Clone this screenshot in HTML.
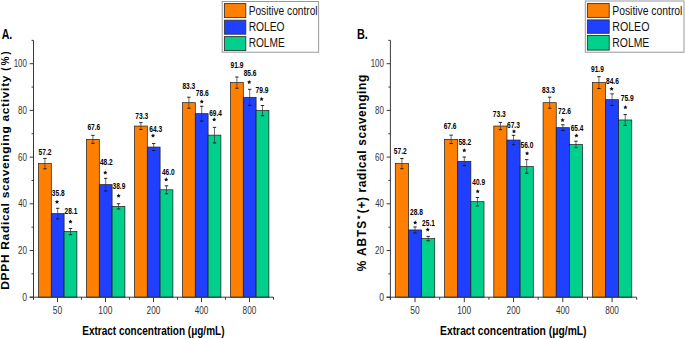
<!DOCTYPE html>
<html><head><meta charset="utf-8"><style>
html,body{margin:0;padding:0;background:#fff;}
svg{display:block;font-family:"Liberation Sans",sans-serif;}
</style></head><body>
<svg width="685" height="339" viewBox="0 0 685 339">
<rect width="685" height="339" fill="#fff"/>
<rect x="38.50" y="163.64" width="12.80" height="133.56" fill="#FF8000" stroke="#1a1a1a" stroke-width="0.7"/>
<rect x="51.30" y="213.61" width="12.80" height="83.59" fill="#2040FF" stroke="#1a1a1a" stroke-width="0.7"/>
<rect x="64.10" y="231.59" width="12.80" height="65.61" fill="#00D08C" stroke="#1a1a1a" stroke-width="0.7"/>
<rect x="86.50" y="139.35" width="12.80" height="157.85" fill="#FF8000" stroke="#1a1a1a" stroke-width="0.7"/>
<rect x="99.30" y="184.65" width="12.80" height="112.55" fill="#2040FF" stroke="#1a1a1a" stroke-width="0.7"/>
<rect x="112.10" y="206.37" width="12.80" height="90.83" fill="#00D08C" stroke="#1a1a1a" stroke-width="0.7"/>
<rect x="134.50" y="126.04" width="12.80" height="171.16" fill="#FF8000" stroke="#1a1a1a" stroke-width="0.7"/>
<rect x="147.30" y="147.06" width="12.80" height="150.14" fill="#2040FF" stroke="#1a1a1a" stroke-width="0.7"/>
<rect x="160.10" y="189.79" width="12.80" height="107.41" fill="#00D08C" stroke="#1a1a1a" stroke-width="0.7"/>
<rect x="182.50" y="102.69" width="12.80" height="194.51" fill="#FF8000" stroke="#1a1a1a" stroke-width="0.7"/>
<rect x="195.30" y="113.67" width="12.80" height="183.53" fill="#2040FF" stroke="#1a1a1a" stroke-width="0.7"/>
<rect x="208.10" y="135.15" width="12.80" height="162.05" fill="#00D08C" stroke="#1a1a1a" stroke-width="0.7"/>
<rect x="230.50" y="82.61" width="12.80" height="214.59" fill="#FF8000" stroke="#1a1a1a" stroke-width="0.7"/>
<rect x="243.30" y="97.32" width="12.80" height="199.88" fill="#2040FF" stroke="#1a1a1a" stroke-width="0.7"/>
<rect x="256.10" y="110.63" width="12.80" height="186.57" fill="#00D08C" stroke="#1a1a1a" stroke-width="0.7"/>
<line x1="44.90" y1="158.44" x2="44.90" y2="168.84" stroke="#333" stroke-width="0.7"/>
<line x1="43.20" y1="158.44" x2="46.60" y2="158.44" stroke="#111" stroke-width="0.9"/>
<line x1="43.20" y1="168.84" x2="46.60" y2="168.84" stroke="#111" stroke-width="0.9"/>
<line x1="57.70" y1="208.31" x2="57.70" y2="218.91" stroke="#333" stroke-width="0.7"/>
<line x1="56.00" y1="208.31" x2="59.40" y2="208.31" stroke="#111" stroke-width="0.9"/>
<line x1="56.00" y1="218.91" x2="59.40" y2="218.91" stroke="#111" stroke-width="0.9"/>
<line x1="70.50" y1="228.49" x2="70.50" y2="234.69" stroke="#333" stroke-width="0.7"/>
<line x1="68.80" y1="228.49" x2="72.20" y2="228.49" stroke="#111" stroke-width="0.9"/>
<line x1="68.80" y1="234.69" x2="72.20" y2="234.69" stroke="#111" stroke-width="0.9"/>
<line x1="92.90" y1="135.35" x2="92.90" y2="143.35" stroke="#333" stroke-width="0.7"/>
<line x1="91.20" y1="135.35" x2="94.60" y2="135.35" stroke="#111" stroke-width="0.9"/>
<line x1="91.20" y1="143.35" x2="94.60" y2="143.35" stroke="#111" stroke-width="0.9"/>
<line x1="105.70" y1="178.35" x2="105.70" y2="190.95" stroke="#333" stroke-width="0.7"/>
<line x1="104.00" y1="178.35" x2="107.40" y2="178.35" stroke="#111" stroke-width="0.9"/>
<line x1="104.00" y1="190.95" x2="107.40" y2="190.95" stroke="#111" stroke-width="0.9"/>
<line x1="118.50" y1="203.77" x2="118.50" y2="208.97" stroke="#333" stroke-width="0.7"/>
<line x1="116.80" y1="203.77" x2="120.20" y2="203.77" stroke="#111" stroke-width="0.9"/>
<line x1="116.80" y1="208.97" x2="120.20" y2="208.97" stroke="#111" stroke-width="0.9"/>
<line x1="140.90" y1="122.64" x2="140.90" y2="129.44" stroke="#333" stroke-width="0.7"/>
<line x1="139.20" y1="122.64" x2="142.60" y2="122.64" stroke="#111" stroke-width="0.9"/>
<line x1="139.20" y1="129.44" x2="142.60" y2="129.44" stroke="#111" stroke-width="0.9"/>
<line x1="153.70" y1="143.56" x2="153.70" y2="150.56" stroke="#333" stroke-width="0.7"/>
<line x1="152.00" y1="143.56" x2="155.40" y2="143.56" stroke="#111" stroke-width="0.9"/>
<line x1="152.00" y1="150.56" x2="155.40" y2="150.56" stroke="#111" stroke-width="0.9"/>
<line x1="166.50" y1="185.79" x2="166.50" y2="193.79" stroke="#333" stroke-width="0.7"/>
<line x1="164.80" y1="185.79" x2="168.20" y2="185.79" stroke="#111" stroke-width="0.9"/>
<line x1="164.80" y1="193.79" x2="168.20" y2="193.79" stroke="#111" stroke-width="0.9"/>
<line x1="188.90" y1="97.19" x2="188.90" y2="108.19" stroke="#333" stroke-width="0.7"/>
<line x1="187.20" y1="97.19" x2="190.60" y2="97.19" stroke="#111" stroke-width="0.9"/>
<line x1="187.20" y1="108.19" x2="190.60" y2="108.19" stroke="#111" stroke-width="0.9"/>
<line x1="201.70" y1="106.27" x2="201.70" y2="121.07" stroke="#333" stroke-width="0.7"/>
<line x1="200.00" y1="106.27" x2="203.40" y2="106.27" stroke="#111" stroke-width="0.9"/>
<line x1="200.00" y1="121.07" x2="203.40" y2="121.07" stroke="#111" stroke-width="0.9"/>
<line x1="214.50" y1="127.35" x2="214.50" y2="142.95" stroke="#333" stroke-width="0.7"/>
<line x1="212.80" y1="127.35" x2="216.20" y2="127.35" stroke="#111" stroke-width="0.9"/>
<line x1="212.80" y1="142.95" x2="216.20" y2="142.95" stroke="#111" stroke-width="0.9"/>
<line x1="236.90" y1="77.01" x2="236.90" y2="88.21" stroke="#333" stroke-width="0.7"/>
<line x1="235.20" y1="77.01" x2="238.60" y2="77.01" stroke="#111" stroke-width="0.9"/>
<line x1="235.20" y1="88.21" x2="238.60" y2="88.21" stroke="#111" stroke-width="0.9"/>
<line x1="249.70" y1="89.32" x2="249.70" y2="105.32" stroke="#333" stroke-width="0.7"/>
<line x1="248.00" y1="89.32" x2="251.40" y2="89.32" stroke="#111" stroke-width="0.9"/>
<line x1="248.00" y1="105.32" x2="251.40" y2="105.32" stroke="#111" stroke-width="0.9"/>
<line x1="262.50" y1="105.53" x2="262.50" y2="115.73" stroke="#333" stroke-width="0.7"/>
<line x1="260.80" y1="105.53" x2="264.20" y2="105.53" stroke="#111" stroke-width="0.9"/>
<line x1="260.80" y1="115.73" x2="264.20" y2="115.73" stroke="#111" stroke-width="0.9"/>
<line x1="33.50" y1="40.30" x2="33.50" y2="299.70" stroke="#383838" stroke-width="1"/>
<line x1="29.70" y1="297.20" x2="273.50" y2="297.20" stroke="#383838" stroke-width="1"/>
<line x1="29.70" y1="297.20" x2="33.50" y2="297.20" stroke="#383838" stroke-width="1"/>
<line x1="31.50" y1="273.85" x2="33.50" y2="273.85" stroke="#383838" stroke-width="1"/>
<line x1="29.70" y1="250.50" x2="33.50" y2="250.50" stroke="#383838" stroke-width="1"/>
<line x1="31.50" y1="227.15" x2="33.50" y2="227.15" stroke="#383838" stroke-width="1"/>
<line x1="29.70" y1="203.80" x2="33.50" y2="203.80" stroke="#383838" stroke-width="1"/>
<line x1="31.50" y1="180.45" x2="33.50" y2="180.45" stroke="#383838" stroke-width="1"/>
<line x1="29.70" y1="157.10" x2="33.50" y2="157.10" stroke="#383838" stroke-width="1"/>
<line x1="31.50" y1="133.75" x2="33.50" y2="133.75" stroke="#383838" stroke-width="1"/>
<line x1="29.70" y1="110.40" x2="33.50" y2="110.40" stroke="#383838" stroke-width="1"/>
<line x1="31.50" y1="87.05" x2="33.50" y2="87.05" stroke="#383838" stroke-width="1"/>
<line x1="29.70" y1="63.70" x2="33.50" y2="63.70" stroke="#383838" stroke-width="1"/>
<line x1="31.50" y1="40.35" x2="33.50" y2="40.35" stroke="#383838" stroke-width="1"/>
<line x1="33.50" y1="297.20" x2="33.50" y2="299.70" stroke="#383838" stroke-width="1"/>
<line x1="57.50" y1="297.20" x2="57.50" y2="302.20" stroke="#383838" stroke-width="1"/>
<line x1="81.50" y1="297.20" x2="81.50" y2="299.70" stroke="#383838" stroke-width="1"/>
<line x1="105.50" y1="297.20" x2="105.50" y2="302.20" stroke="#383838" stroke-width="1"/>
<line x1="129.50" y1="297.20" x2="129.50" y2="299.70" stroke="#383838" stroke-width="1"/>
<line x1="153.50" y1="297.20" x2="153.50" y2="302.20" stroke="#383838" stroke-width="1"/>
<line x1="177.50" y1="297.20" x2="177.50" y2="299.70" stroke="#383838" stroke-width="1"/>
<line x1="201.50" y1="297.20" x2="201.50" y2="302.20" stroke="#383838" stroke-width="1"/>
<line x1="225.50" y1="297.20" x2="225.50" y2="299.70" stroke="#383838" stroke-width="1"/>
<line x1="249.50" y1="297.20" x2="249.50" y2="302.20" stroke="#383838" stroke-width="1"/>
<line x1="273.50" y1="297.20" x2="273.50" y2="299.70" stroke="#383838" stroke-width="1"/>
<text transform="translate(22.17,300.70) scale(0.7148,0.9312)" font-size="12" font-weight="normal" fill="#333">0</text>
<text transform="translate(18.00,254.00) scale(0.6680,0.9312)" font-size="12" font-weight="normal" fill="#333">20</text>
<text transform="translate(18.22,207.30) scale(0.6508,0.9312)" font-size="12" font-weight="normal" fill="#333">40</text>
<text transform="translate(17.99,160.60) scale(0.6686,0.9312)" font-size="12" font-weight="normal" fill="#333">60</text>
<text transform="translate(18.06,113.90) scale(0.6634,0.9312)" font-size="12" font-weight="normal" fill="#333">80</text>
<text transform="translate(13.70,67.20) scale(0.6600,0.9312)" font-size="12" font-weight="normal" fill="#333">100</text>
<text transform="translate(52.81,313.80) scale(0.7018,0.9193)" font-size="12" font-weight="normal" fill="#333">50</text>
<text transform="translate(98.34,313.80) scale(0.7003,0.9193)" font-size="12" font-weight="normal" fill="#333">100</text>
<text transform="translate(146.56,313.80) scale(0.6887,0.9193)" font-size="12" font-weight="normal" fill="#333">200</text>
<text transform="translate(194.79,313.80) scale(0.6771,0.9193)" font-size="12" font-weight="normal" fill="#333">400</text>
<text transform="translate(242.62,313.80) scale(0.6857,0.9193)" font-size="12" font-weight="normal" fill="#333">800</text>
<text transform="translate(38.54,155.01) scale(0.7348,0.9730)" font-size="9" font-weight="bold" fill="#000">57.2</text>
<text transform="translate(51.85,196.05) scale(0.7282,0.9716)" font-size="9" font-weight="bold" fill="#000">35.8</text>
<text transform="translate(64.52,214.11) scale(0.7317,0.9730)" font-size="9" font-weight="bold" fill="#000">28.1</text>
<text transform="translate(87.41,130.21) scale(0.7356,0.9730)" font-size="9" font-weight="bold" fill="#000">67.6</text>
<text transform="translate(99.90,165.41) scale(0.7286,0.9730)" font-size="9" font-weight="bold" fill="#000">48.2</text>
<text transform="translate(112.55,189.45) scale(0.7305,0.9716)" font-size="9" font-weight="bold" fill="#000">38.9</text>
<text transform="translate(135.31,118.50) scale(0.7380,0.9716)" font-size="9" font-weight="bold" fill="#000">73.3</text>
<text transform="translate(149.26,132.25) scale(0.7356,0.9716)" font-size="9" font-weight="bold" fill="#000">64.3</text>
<text transform="translate(161.95,175.31) scale(0.7290,0.9730)" font-size="9" font-weight="bold" fill="#000">46.0</text>
<text transform="translate(182.44,89.15) scale(0.7336,0.9716)" font-size="9" font-weight="bold" fill="#000">83.3</text>
<text transform="translate(195.76,96.26) scale(0.7380,0.9730)" font-size="9" font-weight="bold" fill="#000">78.6</text>
<text transform="translate(209.16,115.56) scale(0.7236,0.9730)" font-size="9" font-weight="bold" fill="#000">69.4</text>
<text transform="translate(230.57,67.76) scale(0.7352,0.9730)" font-size="9" font-weight="bold" fill="#000">91.9</text>
<text transform="translate(243.69,75.51) scale(0.7336,0.9730)" font-size="9" font-weight="bold" fill="#000">85.6</text>
<text transform="translate(255.51,92.81) scale(0.7384,0.9730)" font-size="9" font-weight="bold" fill="#000">79.9</text>
<polygon points="57.00,199.76 57.65,201.07 59.09,201.28 58.05,202.30 58.29,203.74 57.00,203.06 55.71,203.74 55.95,202.30 54.91,201.28 56.35,201.07" fill="#111"/>
<polygon points="70.50,219.56 71.15,220.87 72.59,221.08 71.55,222.10 71.79,223.54 70.50,222.86 69.21,223.54 69.45,222.10 68.41,221.08 69.85,220.87" fill="#111"/>
<polygon points="105.30,170.41 105.95,171.72 107.39,171.93 106.35,172.95 106.59,174.39 105.30,173.71 104.01,174.39 104.25,172.95 103.21,171.93 104.65,171.72" fill="#111"/>
<polygon points="118.60,193.61 119.25,194.92 120.69,195.13 119.65,196.15 119.89,197.59 118.60,196.91 117.31,197.59 117.55,196.15 116.51,195.13 117.95,194.92" fill="#111"/>
<polygon points="153.00,133.46 153.65,134.77 155.09,134.98 154.05,136.00 154.29,137.44 153.00,136.76 151.71,137.44 151.95,136.00 150.91,134.98 152.35,134.77" fill="#111"/>
<polygon points="166.20,177.36 166.85,178.67 168.29,178.88 167.25,179.90 167.49,181.34 166.20,180.66 164.91,181.34 165.15,179.90 164.11,178.88 165.55,178.67" fill="#111"/>
<polygon points="201.80,99.41 202.45,100.72 203.89,100.93 202.85,101.95 203.09,103.39 201.80,102.71 200.51,103.39 200.75,101.95 199.71,100.93 201.15,100.72" fill="#111"/>
<polygon points="214.20,117.36 214.85,118.67 216.29,118.88 215.25,119.90 215.49,121.34 214.20,120.66 212.91,121.34 213.15,119.90 212.11,118.88 213.55,118.67" fill="#111"/>
<polygon points="249.20,80.06 249.85,81.37 251.29,81.58 250.25,82.60 250.49,84.04 249.20,83.36 247.91,84.04 248.15,82.60 247.11,81.58 248.55,81.37" fill="#111"/>
<polygon points="261.60,97.06 262.25,98.37 263.69,98.58 262.65,99.60 262.89,101.04 261.60,100.36 260.31,101.04 260.55,99.60 259.51,98.58 260.95,98.37" fill="#111"/>
<rect x="395.30" y="163.64" width="13.15" height="133.56" fill="#FF8000" stroke="#1a1a1a" stroke-width="0.7"/>
<rect x="408.45" y="229.95" width="13.15" height="67.25" fill="#2040FF" stroke="#1a1a1a" stroke-width="0.7"/>
<rect x="421.60" y="238.59" width="13.15" height="58.61" fill="#00D08C" stroke="#1a1a1a" stroke-width="0.7"/>
<rect x="444.56" y="139.35" width="13.15" height="157.85" fill="#FF8000" stroke="#1a1a1a" stroke-width="0.7"/>
<rect x="457.71" y="161.30" width="13.15" height="135.90" fill="#2040FF" stroke="#1a1a1a" stroke-width="0.7"/>
<rect x="470.86" y="201.70" width="13.15" height="95.50" fill="#00D08C" stroke="#1a1a1a" stroke-width="0.7"/>
<rect x="493.82" y="126.04" width="13.15" height="171.16" fill="#FF8000" stroke="#1a1a1a" stroke-width="0.7"/>
<rect x="506.97" y="140.05" width="13.15" height="157.15" fill="#2040FF" stroke="#1a1a1a" stroke-width="0.7"/>
<rect x="520.12" y="166.44" width="13.15" height="130.76" fill="#00D08C" stroke="#1a1a1a" stroke-width="0.7"/>
<rect x="543.08" y="102.69" width="13.15" height="194.51" fill="#FF8000" stroke="#1a1a1a" stroke-width="0.7"/>
<rect x="556.23" y="127.68" width="13.15" height="169.52" fill="#2040FF" stroke="#1a1a1a" stroke-width="0.7"/>
<rect x="569.38" y="144.49" width="13.15" height="152.71" fill="#00D08C" stroke="#1a1a1a" stroke-width="0.7"/>
<rect x="592.34" y="82.61" width="13.15" height="214.59" fill="#FF8000" stroke="#1a1a1a" stroke-width="0.7"/>
<rect x="605.49" y="99.66" width="13.15" height="197.54" fill="#2040FF" stroke="#1a1a1a" stroke-width="0.7"/>
<rect x="618.64" y="119.97" width="13.15" height="177.23" fill="#00D08C" stroke="#1a1a1a" stroke-width="0.7"/>
<line x1="401.88" y1="158.54" x2="401.88" y2="168.74" stroke="#333" stroke-width="0.7"/>
<line x1="400.18" y1="158.54" x2="403.58" y2="158.54" stroke="#111" stroke-width="0.9"/>
<line x1="400.18" y1="168.74" x2="403.58" y2="168.74" stroke="#111" stroke-width="0.9"/>
<line x1="415.03" y1="226.95" x2="415.03" y2="232.95" stroke="#333" stroke-width="0.7"/>
<line x1="413.33" y1="226.95" x2="416.73" y2="226.95" stroke="#111" stroke-width="0.9"/>
<line x1="413.33" y1="232.95" x2="416.73" y2="232.95" stroke="#111" stroke-width="0.9"/>
<line x1="428.18" y1="236.39" x2="428.18" y2="240.79" stroke="#333" stroke-width="0.7"/>
<line x1="426.48" y1="236.39" x2="429.88" y2="236.39" stroke="#111" stroke-width="0.9"/>
<line x1="426.48" y1="240.79" x2="429.88" y2="240.79" stroke="#111" stroke-width="0.9"/>
<line x1="451.14" y1="135.15" x2="451.14" y2="143.55" stroke="#333" stroke-width="0.7"/>
<line x1="449.44" y1="135.15" x2="452.84" y2="135.15" stroke="#111" stroke-width="0.9"/>
<line x1="449.44" y1="143.55" x2="452.84" y2="143.55" stroke="#111" stroke-width="0.9"/>
<line x1="464.29" y1="157.00" x2="464.29" y2="165.60" stroke="#333" stroke-width="0.7"/>
<line x1="462.59" y1="157.00" x2="465.99" y2="157.00" stroke="#111" stroke-width="0.9"/>
<line x1="462.59" y1="165.60" x2="465.99" y2="165.60" stroke="#111" stroke-width="0.9"/>
<line x1="477.44" y1="197.50" x2="477.44" y2="205.90" stroke="#333" stroke-width="0.7"/>
<line x1="475.74" y1="197.50" x2="479.14" y2="197.50" stroke="#111" stroke-width="0.9"/>
<line x1="475.74" y1="205.90" x2="479.14" y2="205.90" stroke="#111" stroke-width="0.9"/>
<line x1="500.40" y1="122.44" x2="500.40" y2="129.64" stroke="#333" stroke-width="0.7"/>
<line x1="498.70" y1="122.44" x2="502.10" y2="122.44" stroke="#111" stroke-width="0.9"/>
<line x1="498.70" y1="129.64" x2="502.10" y2="129.64" stroke="#111" stroke-width="0.9"/>
<line x1="513.55" y1="135.35" x2="513.55" y2="144.75" stroke="#333" stroke-width="0.7"/>
<line x1="511.85" y1="135.35" x2="515.25" y2="135.35" stroke="#111" stroke-width="0.9"/>
<line x1="511.85" y1="144.75" x2="515.25" y2="144.75" stroke="#111" stroke-width="0.9"/>
<line x1="526.70" y1="159.64" x2="526.70" y2="173.24" stroke="#333" stroke-width="0.7"/>
<line x1="525.00" y1="159.64" x2="528.40" y2="159.64" stroke="#111" stroke-width="0.9"/>
<line x1="525.00" y1="173.24" x2="528.40" y2="173.24" stroke="#111" stroke-width="0.9"/>
<line x1="549.66" y1="97.19" x2="549.66" y2="108.19" stroke="#333" stroke-width="0.7"/>
<line x1="547.96" y1="97.19" x2="551.36" y2="97.19" stroke="#111" stroke-width="0.9"/>
<line x1="547.96" y1="108.19" x2="551.36" y2="108.19" stroke="#111" stroke-width="0.9"/>
<line x1="562.81" y1="124.78" x2="562.81" y2="130.58" stroke="#333" stroke-width="0.7"/>
<line x1="561.11" y1="124.78" x2="564.51" y2="124.78" stroke="#111" stroke-width="0.9"/>
<line x1="561.11" y1="130.58" x2="564.51" y2="130.58" stroke="#111" stroke-width="0.9"/>
<line x1="575.96" y1="141.19" x2="575.96" y2="147.79" stroke="#333" stroke-width="0.7"/>
<line x1="574.26" y1="141.19" x2="577.66" y2="141.19" stroke="#111" stroke-width="0.9"/>
<line x1="574.26" y1="147.79" x2="577.66" y2="147.79" stroke="#111" stroke-width="0.9"/>
<line x1="598.92" y1="76.71" x2="598.92" y2="88.51" stroke="#333" stroke-width="0.7"/>
<line x1="597.22" y1="76.71" x2="600.62" y2="76.71" stroke="#111" stroke-width="0.9"/>
<line x1="597.22" y1="88.51" x2="600.62" y2="88.51" stroke="#111" stroke-width="0.9"/>
<line x1="612.07" y1="93.86" x2="612.07" y2="105.46" stroke="#333" stroke-width="0.7"/>
<line x1="610.37" y1="93.86" x2="613.77" y2="93.86" stroke="#111" stroke-width="0.9"/>
<line x1="610.37" y1="105.46" x2="613.77" y2="105.46" stroke="#111" stroke-width="0.9"/>
<line x1="625.22" y1="114.57" x2="625.22" y2="125.37" stroke="#333" stroke-width="0.7"/>
<line x1="623.52" y1="114.57" x2="626.92" y2="114.57" stroke="#111" stroke-width="0.9"/>
<line x1="623.52" y1="125.37" x2="626.92" y2="125.37" stroke="#111" stroke-width="0.9"/>
<line x1="390.40" y1="40.30" x2="390.40" y2="299.70" stroke="#383838" stroke-width="1"/>
<line x1="386.60" y1="297.20" x2="636.70" y2="297.20" stroke="#383838" stroke-width="1"/>
<line x1="386.60" y1="297.20" x2="390.40" y2="297.20" stroke="#383838" stroke-width="1"/>
<line x1="388.40" y1="273.85" x2="390.40" y2="273.85" stroke="#383838" stroke-width="1"/>
<line x1="386.60" y1="250.50" x2="390.40" y2="250.50" stroke="#383838" stroke-width="1"/>
<line x1="388.40" y1="227.15" x2="390.40" y2="227.15" stroke="#383838" stroke-width="1"/>
<line x1="386.60" y1="203.80" x2="390.40" y2="203.80" stroke="#383838" stroke-width="1"/>
<line x1="388.40" y1="180.45" x2="390.40" y2="180.45" stroke="#383838" stroke-width="1"/>
<line x1="386.60" y1="157.10" x2="390.40" y2="157.10" stroke="#383838" stroke-width="1"/>
<line x1="388.40" y1="133.75" x2="390.40" y2="133.75" stroke="#383838" stroke-width="1"/>
<line x1="386.60" y1="110.40" x2="390.40" y2="110.40" stroke="#383838" stroke-width="1"/>
<line x1="388.40" y1="87.05" x2="390.40" y2="87.05" stroke="#383838" stroke-width="1"/>
<line x1="386.60" y1="63.70" x2="390.40" y2="63.70" stroke="#383838" stroke-width="1"/>
<line x1="388.40" y1="40.35" x2="390.40" y2="40.35" stroke="#383838" stroke-width="1"/>
<line x1="390.40" y1="297.20" x2="390.40" y2="299.70" stroke="#383838" stroke-width="1"/>
<line x1="415.03" y1="297.20" x2="415.03" y2="302.20" stroke="#383838" stroke-width="1"/>
<line x1="439.66" y1="297.20" x2="439.66" y2="299.70" stroke="#383838" stroke-width="1"/>
<line x1="464.29" y1="297.20" x2="464.29" y2="302.20" stroke="#383838" stroke-width="1"/>
<line x1="488.92" y1="297.20" x2="488.92" y2="299.70" stroke="#383838" stroke-width="1"/>
<line x1="513.55" y1="297.20" x2="513.55" y2="302.20" stroke="#383838" stroke-width="1"/>
<line x1="538.18" y1="297.20" x2="538.18" y2="299.70" stroke="#383838" stroke-width="1"/>
<line x1="562.81" y1="297.20" x2="562.81" y2="302.20" stroke="#383838" stroke-width="1"/>
<line x1="587.44" y1="297.20" x2="587.44" y2="299.70" stroke="#383838" stroke-width="1"/>
<line x1="612.07" y1="297.20" x2="612.07" y2="302.20" stroke="#383838" stroke-width="1"/>
<line x1="636.70" y1="297.20" x2="636.70" y2="299.70" stroke="#383838" stroke-width="1"/>
<text transform="translate(379.17,300.70) scale(0.7148,0.9312)" font-size="12" font-weight="normal" fill="#333">0</text>
<text transform="translate(375.00,254.00) scale(0.6680,0.9312)" font-size="12" font-weight="normal" fill="#333">20</text>
<text transform="translate(375.22,207.30) scale(0.6508,0.9312)" font-size="12" font-weight="normal" fill="#333">40</text>
<text transform="translate(374.99,160.60) scale(0.6686,0.9312)" font-size="12" font-weight="normal" fill="#333">60</text>
<text transform="translate(375.06,113.90) scale(0.6634,0.9312)" font-size="12" font-weight="normal" fill="#333">80</text>
<text transform="translate(370.70,67.20) scale(0.6600,0.9312)" font-size="12" font-weight="normal" fill="#333">100</text>
<text transform="translate(410.34,313.80) scale(0.7018,0.9193)" font-size="12" font-weight="normal" fill="#333">50</text>
<text transform="translate(457.13,313.80) scale(0.7003,0.9193)" font-size="12" font-weight="normal" fill="#333">100</text>
<text transform="translate(506.61,313.80) scale(0.6887,0.9193)" font-size="12" font-weight="normal" fill="#333">200</text>
<text transform="translate(556.10,313.80) scale(0.6771,0.9193)" font-size="12" font-weight="normal" fill="#333">400</text>
<text transform="translate(605.19,313.80) scale(0.6857,0.9193)" font-size="12" font-weight="normal" fill="#333">800</text>
<text transform="translate(393.79,154.16) scale(0.7348,0.9730)" font-size="9" font-weight="bold" fill="#000">57.2</text>
<text transform="translate(410.02,215.21) scale(0.7329,0.9730)" font-size="9" font-weight="bold" fill="#000">28.8</text>
<text transform="translate(422.12,225.66) scale(0.7317,0.9730)" font-size="9" font-weight="bold" fill="#000">25.1</text>
<text transform="translate(443.66,128.91) scale(0.7356,0.9730)" font-size="9" font-weight="bold" fill="#000">67.6</text>
<text transform="translate(458.39,145.21) scale(0.7348,0.9730)" font-size="9" font-weight="bold" fill="#000">58.2</text>
<text transform="translate(472.30,184.56) scale(0.7274,0.9730)" font-size="9" font-weight="bold" fill="#000">40.9</text>
<text transform="translate(492.76,116.85) scale(0.7380,0.9716)" font-size="9" font-weight="bold" fill="#000">73.3</text>
<text transform="translate(506.96,127.50) scale(0.7356,0.9716)" font-size="9" font-weight="bold" fill="#000">67.3</text>
<text transform="translate(520.49,147.76) scale(0.7352,0.9730)" font-size="9" font-weight="bold" fill="#000">56.0</text>
<text transform="translate(542.04,93.15) scale(0.7336,0.9716)" font-size="9" font-weight="bold" fill="#000">83.3</text>
<text transform="translate(558.06,113.96) scale(0.7380,0.9730)" font-size="9" font-weight="bold" fill="#000">72.6</text>
<text transform="translate(570.66,130.86) scale(0.7236,0.9730)" font-size="9" font-weight="bold" fill="#000">65.4</text>
<text transform="translate(591.02,71.71) scale(0.7352,0.9730)" font-size="9" font-weight="bold" fill="#000">91.9</text>
<text transform="translate(605.99,83.66) scale(0.7336,0.9730)" font-size="9" font-weight="bold" fill="#000">84.6</text>
<text transform="translate(620.71,100.76) scale(0.7384,0.9730)" font-size="9" font-weight="bold" fill="#000">75.9</text>
<polygon points="415.20,220.56 415.85,221.87 417.29,222.08 416.25,223.10 416.49,224.54 415.20,223.86 413.91,224.54 414.15,223.10 413.11,222.08 414.55,221.87" fill="#111"/>
<polygon points="427.70,227.51 428.35,228.82 429.79,229.03 428.75,230.05 428.99,231.49 427.70,230.81 426.41,231.49 426.65,230.05 425.61,229.03 427.05,228.82" fill="#111"/>
<polygon points="464.30,148.26 464.95,149.57 466.39,149.78 465.35,150.80 465.59,152.24 464.30,151.56 463.01,152.24 463.25,150.80 462.21,149.78 463.65,149.57" fill="#111"/>
<polygon points="477.70,189.21 478.35,190.52 479.79,190.73 478.75,191.75 478.99,193.19 477.70,192.51 476.41,193.19 476.65,191.75 475.61,190.73 477.05,190.52" fill="#111"/>
<polygon points="514.00,129.16 514.65,130.47 516.09,130.68 515.05,131.70 515.29,133.14 514.00,132.46 512.71,133.14 512.95,131.70 511.91,130.68 513.35,130.47" fill="#111"/>
<polygon points="527.10,151.26 527.75,152.57 529.19,152.78 528.15,153.80 528.39,155.24 527.10,154.56 525.81,155.24 526.05,153.80 525.01,152.78 526.45,152.57" fill="#111"/>
<polygon points="562.60,118.01 563.25,119.32 564.69,119.53 563.65,120.55 563.89,121.99 562.60,121.31 561.31,121.99 561.55,120.55 560.51,119.53 561.95,119.32" fill="#111"/>
<polygon points="576.40,133.51 577.05,134.82 578.49,135.03 577.45,136.05 577.69,137.49 576.40,136.81 575.11,137.49 575.35,136.05 574.31,135.03 575.75,134.82" fill="#111"/>
<polygon points="611.60,86.76 612.25,88.07 613.69,88.28 612.65,89.30 612.89,90.74 611.60,90.06 610.31,90.74 610.55,89.30 609.51,88.28 610.95,88.07" fill="#111"/>
<polygon points="625.40,105.11 626.05,106.42 627.49,106.63 626.45,107.65 626.69,109.09 625.40,108.41 624.11,109.09 624.35,107.65 623.31,106.63 624.75,106.42" fill="#111"/>
<text transform="translate(9.30,289.80) rotate(-90) scale(0.9221,0.8833)" font-size="13" letter-spacing="0.748" font-weight="bold" fill="#000">DPPH Radical scavenging activity</text>
<text transform="translate(9.30,70.80) rotate(-90) scale(0.7740,0.8833)" font-size="13" letter-spacing="2.364" font-weight="bold" fill="#000">(%)</text>
<text transform="translate(365.60,271.19) rotate(-90) scale(0.9065,0.9504)" font-size="13" letter-spacing="1.094" font-weight="bold" fill="#000">% ABTS</text>
<polygon points="358.80,215.30 359.39,216.59 360.80,216.75 359.75,217.71 360.03,219.10 358.80,218.40 357.57,219.10 357.85,217.71 356.80,216.75 358.21,216.59" fill="#111"/>
<text transform="translate(365.60,213.19) rotate(-90) scale(0.9113,0.9504)" font-size="13" letter-spacing="0.716" font-weight="bold" fill="#000">(+) radical scavenging</text>
<text transform="translate(82.23,334.70) scale(0.8340,1.0296)" font-size="12" font-weight="bold" fill="#000">Extract concentration (μg/mL)</text>
<text transform="translate(440.11,334.70) scale(0.8589,1.0296)" font-size="12" font-weight="bold" fill="#000">Extract concentration (μg/mL)</text>
<text transform="translate(1.64,38.60) scale(0.8151,1.0957)" font-size="13" font-weight="bold" fill="#000">A.</text>
<text transform="translate(356.97,38.50) scale(0.8369,1.1181)" font-size="13" font-weight="bold" fill="#000">B.</text>
<rect x="222.20" y="1.50" width="96.40" height="50.70" fill="#fff" stroke="#999" stroke-width="1"/>
<rect x="224.40" y="3.60" width="21.40" height="14.00" fill="#FF8000" stroke="#333" stroke-width="0.9"/>
<rect x="224.40" y="20.20" width="21.40" height="14.00" fill="#2040FF" stroke="#333" stroke-width="0.9"/>
<rect x="224.40" y="36.60" width="21.40" height="14.00" fill="#00D08C" stroke="#333" stroke-width="0.9"/>
<text transform="translate(248.67,14.90) scale(0.7818,1.0186)" font-size="13" font-weight="normal" fill="#111">Positive control</text>
<text transform="translate(248.66,31.20) scale(0.7873,0.9727)" font-size="13" font-weight="normal" fill="#111">ROLEO</text>
<text transform="translate(248.67,47.30) scale(0.7802,0.9839)" font-size="13" font-weight="normal" fill="#111">ROLME</text>
<rect x="585.30" y="1.00" width="98.70" height="51.20" fill="#fff" stroke="#999" stroke-width="1"/>
<rect x="587.40" y="3.60" width="21.80" height="13.80" fill="#FF8000" stroke="#333" stroke-width="0.9"/>
<rect x="587.40" y="19.90" width="21.80" height="13.40" fill="#2040FF" stroke="#333" stroke-width="0.9"/>
<rect x="587.40" y="35.50" width="21.80" height="14.60" fill="#00D08C" stroke="#333" stroke-width="0.9"/>
<text transform="translate(612.25,14.70) scale(0.7968,1.0292)" font-size="13" font-weight="normal" fill="#111">Positive control</text>
<text transform="translate(612.23,30.90) scale(0.8169,1.0174)" font-size="13" font-weight="normal" fill="#111">ROLEO</text>
<text transform="translate(612.24,47.10) scale(0.8026,1.0174)" font-size="13" font-weight="normal" fill="#111">ROLME</text>
</svg></body></html>
